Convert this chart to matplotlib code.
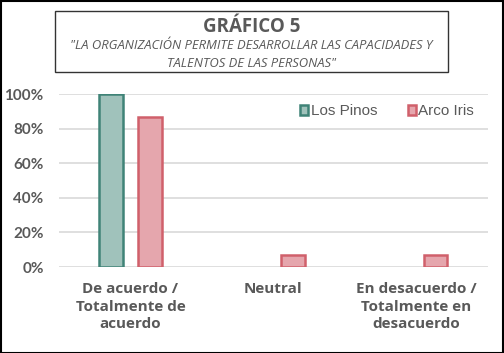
import numpy as np
import matplotlib.pyplot as plt
from matplotlib.patches import Rectangle

categories = ['De acuerdo /\nTotalmente de\nacuerdo', 'Neutral',
              'En desacuerdo /\nTotalmente en\ndesacuerdo']
los_pinos = [1.00, 0.0, 0.0]
arco_iris = [0.87, 0.07, 0.07]
y_ticks = [0, 0.2, 0.4, 0.6, 0.8, 1.0]
y_labels = ['0%', '20%', '40%', '60%', '80%', '100%']

GRAY = '#595959'
GREEN_EDGE = '#3f8377'
GREEN_FILL = '#a0c2bb'
RED_EDGE = '#d0606b'
RED_FILL = '#e5a6ad'

fig = plt.figure(figsize=(5.04, 3.53), dpi=100)
ax = fig.add_axes([0.117, 0.2436, 0.851, 0.49])

x = np.arange(len(categories))
w = 0.165
off = 0.135
# zero values are not drawn in the original
lp = np.array(los_pinos)
ai = np.array(arco_iris)
ax.bar(x[lp > 0] - off, lp[lp > 0], w, color=GREEN_FILL, edgecolor=GREEN_EDGE,
       linewidth=1.8, label='Los Pinos', zorder=3)
ax.bar(x[ai > 0] + off, ai[ai > 0], w, color=RED_FILL, edgecolor=RED_EDGE,
       linewidth=1.8, label='Arco Iris', zorder=3)

ax.set_xlim(-0.5, 2.5)
ax.set_ylim(0, 1.0)
ax.set_yticks(y_ticks)
ax.set_yticklabels(y_labels, fontsize=11, fontweight='bold', color=GRAY,
                   family='Lato')
ax.set_xticks(x)
ax.set_xticklabels(categories, fontsize=11, fontweight='bold', color=GRAY,
                   family='Open Sans', linespacing=1.3)
ax.tick_params(length=0)
ax.tick_params(axis='y', pad=11)
ax.tick_params(axis='x', pad=11)
ax.grid(axis='y', color='#d9d9d9', linewidth=1.2, zorder=0)
ax.set_axisbelow(True)
for s in ax.spines.values():
    s.set_visible(False)

leg = ax.legend(loc='upper right', bbox_to_anchor=(1.0, 1.02), ncol=2,
                frameon=False, prop={'family': 'Liberation Sans', 'size': 11},
                handlelength=0.55, handleheight=0.55, handletextpad=0.15,
                columnspacing=2.0)
for t in leg.get_texts():
    t.set_color(GRAY)

# title box
fig.patches.append(Rectangle((0.109, 0.796), 0.78, 0.173, transform=fig.transFigure,
                             fill=False, edgecolor='#333333', linewidth=1.0))
fig.text(0.499, 0.924, 'GRÁFICO 5', ha='center', va='center', fontsize=13.5,
         fontweight='bold', color=GRAY, family='Open Sans')
fig.text(0.499, 0.870, '"LA ORGANIZACIÓN PERMITE DESARROLLAR LAS CAPACIDADES Y',
         ha='center', va='center', fontsize=9.4, style='italic', color=GRAY,
         family='Open Sans')
fig.text(0.499, 0.819, 'TALENTOS DE LAS PERSONAS"', ha='center', va='center',
         fontsize=9.4, style='italic', color=GRAY, family='Open Sans')

# outer border
fig.patches.append(Rectangle((0.001, 0.001), 0.997, 0.996, transform=fig.transFigure,
                             fill=False, edgecolor='black', linewidth=1.5))

fig.savefig('out.png', dpi=100)
